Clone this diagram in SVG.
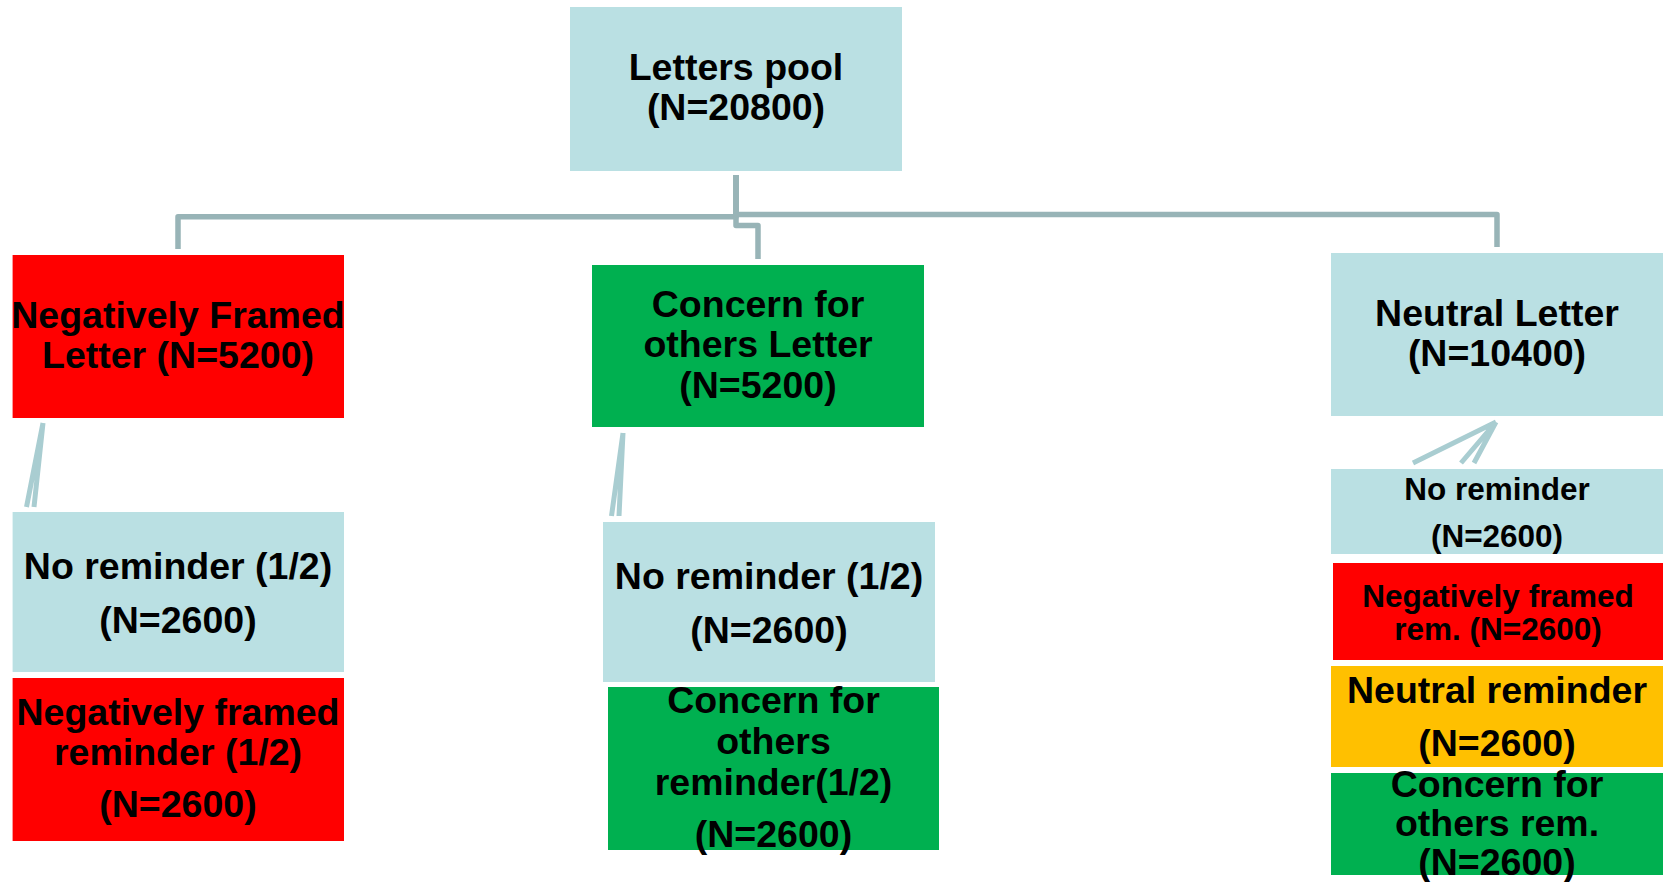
<svg xmlns="http://www.w3.org/2000/svg" width="1666" height="882" viewBox="0 0 1666 882">
<style>
.t{font-family:"Liberation Sans",Arial,sans-serif;font-weight:bold;fill:#000;text-anchor:middle}
.f37{font-size:37.5px}
.f31{font-size:31.5px}
.blue{fill:#BAE0E3}
.red{fill:#FF0000}
.green{fill:#00B050}
.amber{fill:#FFC000}
.elbow{fill:none;stroke:#98B4B7;stroke-width:5.5;stroke-linejoin:round}
.fan{fill:none;stroke:#A9CDD1;stroke-width:5;stroke-linecap:butt}
</style>
<rect width="1666" height="882" fill="#fff"/>
<g id="connectors">
<path class="elbow" d="M736 175 V216.7 H178 V249"/>
<path class="elbow" d="M736 175 V225.5 H758 V259"/>
<path class="elbow" d="M736 175 V214.5 H1497 V247"/>
<path class="fan" d="M43 423 L26.5 507 M43 423 L34 507"/>
<path class="fan" d="M623 433 L611.5 516 M623 433 L619 516"/>
<path class="fan" d="M1496 422 L1413 463 M1496 422 L1461 463 M1496 422 L1474 463"/>
</g>
<g id="letters-pool">
<rect class="blue" x="570" y="7" width="332" height="164"/>
<text class="t f37" x="736" y="80">Letters pool</text>
<text class="t f37" x="736" y="120">(N=20800)</text>
</g>
<g id="neg-letter">
<rect class="red" x="12.6" y="255" width="331.4" height="163"/>
<text class="t f37" x="178" y="328">Negatively Framed</text>
<text class="t f37" x="178" y="368">Letter (N=5200)</text>
</g>
<g id="concern-letter">
<rect class="green" x="592" y="265" width="332" height="162"/>
<text class="t f37" x="758" y="317">Concern for</text>
<text class="t f37" x="758" y="357">others Letter</text>
<text class="t f37" x="758" y="398">(N=5200)</text>
</g>
<g id="neutral-letter">
<rect class="blue" x="1331" y="253" width="332" height="163"/>
<text class="t f37" x="1497" y="326">Neutral Letter</text>
<text class="t f37" x="1497" y="366">(N=10400)</text>
</g>
<g id="neg-no-reminder">
<rect class="blue" x="12.6" y="512" width="331.4" height="160"/>
<text class="t f37" x="178" y="579">No reminder (1/2)</text>
<text class="t f37" x="178" y="633">(N=2600)</text>
</g>
<g id="neg-reminder">
<rect class="red" x="12.6" y="678" width="331.4" height="163"/>
<text class="t f37" x="178" y="725">Negatively framed</text>
<text class="t f37" x="178" y="765">reminder (1/2)</text>
<text class="t f37" x="178" y="817">(N=2600)</text>
</g>
<g id="concern-no-reminder">
<rect class="blue" x="603" y="522" width="332" height="160"/>
<text class="t f37" x="769" y="589">No reminder (1/2)</text>
<text class="t f37" x="769" y="643">(N=2600)</text>
</g>
<g id="concern-reminder">
<rect class="green" x="608" y="687" width="331" height="163"/>
<text class="t f37" x="773.5" y="713">Concern for</text>
<text class="t f37" x="773.5" y="754">others</text>
<text class="t f37" x="773.5" y="795">reminder(1/2)</text>
<text class="t f37" x="773.5" y="847">(N=2600)</text>
</g>
<g id="neutral-no-reminder">
<rect class="blue" x="1331" y="469" width="332" height="85"/>
<text class="t f31" x="1497" y="500">No reminder</text>
<text class="t f31" x="1497" y="547">(N=2600)</text>
</g>
<g id="neutral-neg-reminder">
<rect class="red" x="1333" y="563" width="330" height="97"/>
<text class="t f31" x="1498" y="607">Negatively framed</text>
<text class="t f31" x="1498" y="640">rem. (N=2600)</text>
</g>
<g id="neutral-neutral-reminder">
<rect class="amber" x="1331" y="666" width="332" height="101"/>
<text class="t f37" x="1497" y="703">Neutral reminder</text>
<text class="t f37" x="1497" y="756">(N=2600)</text>
</g>
<g id="neutral-concern-reminder">
<rect class="green" x="1331" y="773" width="332" height="102"/>
<text class="t f37" x="1497" y="797">Concern for</text>
<text class="t f37" x="1497" y="836">others rem.</text>
<text class="t f37" x="1497" y="875">(N=2600)</text>
</g>
</svg>
